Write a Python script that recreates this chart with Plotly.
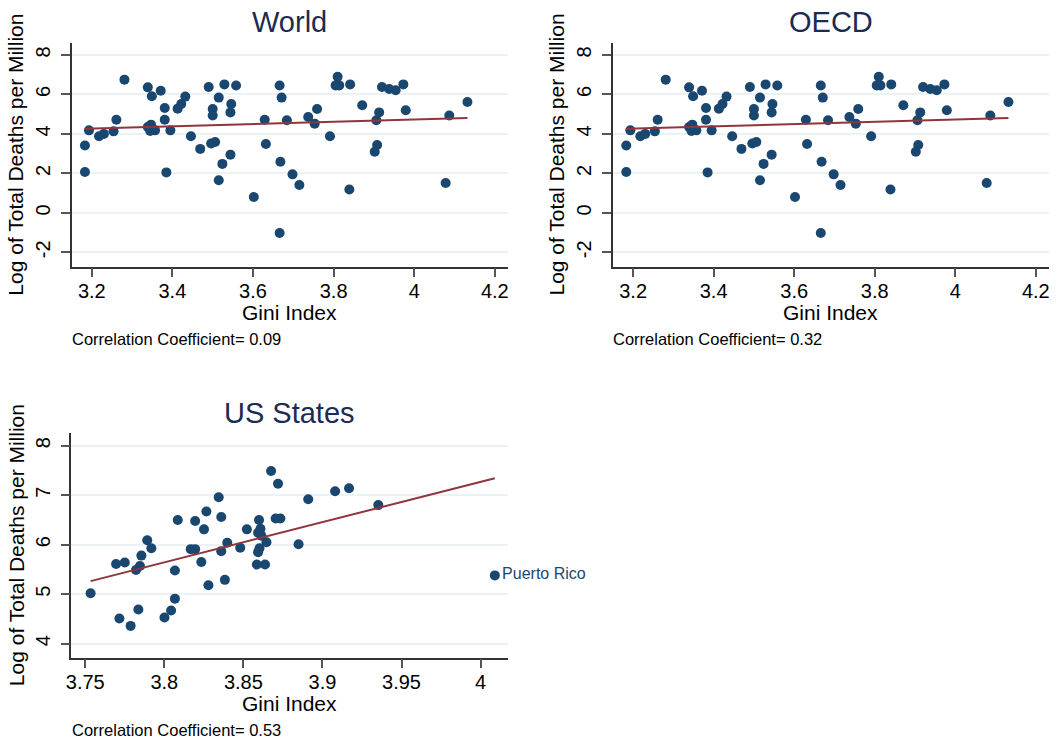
import numpy as np
import plotly.graph_objects as go

# ---------------- data ----------------
world_gini = [3.183, 3.183, 3.193, 3.218, 3.230, 3.254, 3.261, 3.281, 3.339, 3.349,
              3.371, 3.339, 3.347, 3.345, 3.357, 3.381, 3.381, 3.385, 3.395, 3.413,
              3.422, 3.432, 3.446, 3.469, 3.490, 3.500, 3.500, 3.496, 3.506, 3.515,
              3.529, 3.524, 3.515, 3.544, 3.546, 3.544, 3.558, 3.602, 3.629, 3.632,
              3.666, 3.671, 3.668, 3.666, 3.684, 3.698, 3.715, 3.737, 3.753, 3.759,
              3.791, 3.810, 3.805, 3.814, 3.841, 3.839, 3.871, 3.906, 3.913, 3.908,
              3.902, 3.920, 3.938, 3.954, 3.973, 3.979, 4.078, 4.087, 4.132]
world_deaths = [3.41, 2.07, 4.18, 3.88, 4.00, 4.13, 4.72, 6.75, 6.36, 5.91,
                6.19, 4.35, 4.47, 4.15, 4.18, 5.31, 4.72, 2.05, 4.18, 5.28,
                5.52, 5.89, 3.88, 3.24, 6.38, 5.26, 4.93, 3.51, 3.59, 5.84,
                6.51, 2.48, 1.65, 2.95, 5.52, 5.09, 6.45, 0.80, 4.72, 3.49,
                6.45, 5.84, 2.59, -1.02, 4.69, 1.95, 1.41, 4.86, 4.52, 5.26,
                3.88, 6.90, 6.46, 6.46, 6.51, 1.18, 5.45, 4.69, 5.09, 3.44,
                3.10, 6.38, 6.28, 6.21, 6.51, 5.20, 1.51, 4.93, 5.62]

# The OECD panel in the reference shows the same scatter as the World panel
oecd_gini = list(world_gini)
oecd_deaths = list(world_deaths)

us_gini = [3.7534, 3.7695, 3.7750, 3.7716, 3.7787, 3.7836, 3.7821, 3.7846, 3.7855, 3.7892,
           3.7918, 3.8001, 3.8043, 3.8067, 3.8067, 3.8085, 3.8167, 3.8195, 3.8195, 3.8234,
           3.8251, 3.8266, 3.8279, 3.8344, 3.8360, 3.8360, 3.8383, 3.8398, 3.8480, 3.8522,
           3.8599, 3.8608, 3.8593, 3.8614, 3.8602, 3.8593, 3.8585, 3.8637, 3.8646, 3.8675,
           3.8719, 3.8704, 3.8734, 3.8849, 3.8910, 3.9080, 3.9168, 3.9353]
us_deaths = [5.02, 5.61, 5.64, 4.51, 4.36, 4.69, 5.49, 5.57, 5.78, 6.09,
             5.93, 4.53, 4.67, 4.91, 5.48, 6.50, 5.91, 5.91, 6.48, 5.65,
             6.31, 6.67, 5.18, 6.96, 6.56, 5.87, 5.29, 6.04, 5.94, 6.31,
             6.50, 6.32, 6.24, 6.18, 5.93, 5.85, 5.60, 5.60, 6.05, 7.49,
             7.23, 6.53, 6.53, 6.01, 6.92, 7.08, 7.14, 6.80]
pr_label = "Puerto Rico"
pr_gini = [4.009]
pr_deaths = [5.38]

corr_text = ["Correlation Coefficient= 0.09",
             "Correlation Coefficient= 0.32",
             "Correlation Coefficient= 0.53"]
panel_titles = ["World", "OECD", "US States"]
world_ticks = [3.2, 3.4, 3.6, 3.8, 4.0, 4.2]
world_ticklabels = ["3.2", "3.4", "3.6", "3.8", "4", "4.2"]
us_ticks = [3.75, 3.8, 3.85, 3.9, 3.95, 4.0]
us_ticklabels = ["3.75", "3.8", "3.85", "3.9", "3.95", "4"]

# ---------------- styling ----------------
W, H = 1057, 744
FONT = "Liberation Sans, Arial, sans-serif"
MARK = "#1a476f"
LINE = "#90353b"
GRID = "#eaf2f3"
TITLE_COL = "#1c2b50"


def px_x(v):
    return v / W


def px_y(v):
    return 1 - v / H


def fit_line(x, y):
    x = np.asarray(x, float)
    y = np.asarray(y, float)
    b, a = np.polyfit(x, y, 1)
    xs = np.array([x.min(), x.max()])
    return xs, a + b * xs


fig = go.Figure()

panels = [
    ("x", "y", world_gini, world_deaths),
    ("x2", "y2", oecd_gini, oecd_deaths),
]
for xa, ya, gx, gy in panels:
    fig.add_trace(go.Scatter(x=gx, y=gy, mode="markers", xaxis=xa, yaxis=ya,
                             marker=dict(color=MARK, size=10, line=dict(width=0)),
                             showlegend=False, hoverinfo="skip"))
    fx, fy = fit_line(gx, gy)
    fig.add_trace(go.Scatter(x=fx, y=fy, mode="lines", xaxis=xa, yaxis=ya,
                             line=dict(color=LINE, width=2), showlegend=False, hoverinfo="skip"))

# US states
fig.add_trace(go.Scatter(x=us_gini, y=us_deaths, mode="markers", xaxis="x3", yaxis="y3",
                         marker=dict(color=MARK, size=10, line=dict(width=0)),
                         showlegend=False, hoverinfo="skip"))
fig.add_trace(go.Scatter(x=pr_gini, y=pr_deaths, mode="markers+text", xaxis="x3", yaxis="y3",
                         text=[pr_label], textposition="middle right",
                         textfont=dict(color=MARK, size=16, family=FONT),
                         marker=dict(color=MARK, size=10, line=dict(width=0)),
                         showlegend=False, hoverinfo="skip", cliponaxis=False))
fx, fy = fit_line(us_gini + pr_gini, us_deaths + pr_deaths)
fig.add_trace(go.Scatter(x=fx, y=fy, mode="lines", xaxis="x3", yaxis="y3",
                         line=dict(color=LINE, width=2), showlegend=False, hoverinfo="skip"))

xcommon = dict(showline=True, linecolor="#333333", linewidth=1.5, ticks="outside",
               ticklen=9, tickwidth=1.5, tickcolor="#555555", showgrid=False, zeroline=False,
               tickfont=dict(size=20, color="#000000", family=FONT), ticklabelstandoff=-3)
ycommon = dict(showline=True, linecolor="#333333", linewidth=1.5, ticks="outside",
               ticklen=9, tickwidth=1.5, tickcolor="#555555", showgrid=True, gridcolor=GRID,
               gridwidth=2, zeroline=False, tickangle=-90,
               tickfont=dict(size=20, color="#000000", family=FONT), ticklabelstandoff=3)

fig.update_layout(
    width=W, height=H, autosize=False,
    margin=dict(l=0, r=0, t=0, b=0),
    paper_bgcolor="white", plot_bgcolor="white",
    font=dict(family=FONT, color="#000000"),
    xaxis=dict(domain=[px_x(67.3), px_x(506)], range=[3.1507, 4.233], anchor="y",
               tickvals=world_ticks, ticktext=world_ticklabels, **xcommon),
    yaxis=dict(domain=[px_y(266.7), px_y(42.7)], range=[-2.73, 8.623], anchor="x",
               tickvals=[-2, 0, 2, 4, 6, 8], ticktext=["-2", "0", "2", "4", "6", "8"], **ycommon),
    xaxis2=dict(domain=[px_x(611), px_x(1050)], range=[3.1489, 4.2328], anchor="y2",
                tickvals=world_ticks, ticktext=world_ticklabels, **xcommon),
    yaxis2=dict(domain=[px_y(266.7), px_y(42.7)], range=[-2.73, 8.623], anchor="x2",
                tickvals=[-2, 0, 2, 4, 6, 8], ticktext=["-2", "0", "2", "4", "6", "8"], **ycommon),
    xaxis3=dict(domain=[px_x(66.7), px_x(506)], range=[3.7412, 4.0174], anchor="y3",
                tickvals=us_ticks, ticktext=us_ticklabels, **xcommon),
    yaxis3=dict(domain=[px_y(657.7), px_y(432.7)], range=[3.717, 8.263], anchor="x3",
                tickvals=[4, 5, 6, 7, 8], ticktext=["4", "5", "6", "7", "8"], **ycommon),
)

ann = []
# panel titles
for t, (cx, cy) in zip(panel_titles, [(286.6, 21.5), (830.5, 21.5), (286.3, 412.5)]):
    ann.append(dict(text=t, x=px_x(cx), y=px_y(cy), xref="paper", yref="paper",
                    xanchor="center", yanchor="middle", showarrow=False,
                    font=dict(size=29, color=TITLE_COL, family=FONT)))
# x axis titles
for cx, cy in [(286.6, 313), (830.5, 313), (286.3, 703)]:
    ann.append(dict(text="Gini Index", x=px_x(cx), y=px_y(cy), xref="paper", yref="paper",
                    xanchor="center", yanchor="middle", showarrow=False,
                    font=dict(size=21, color="#000000", family=FONT)))
# y axis titles
for cx, cy in [(11, 154.7), (555, 154.7), (11, 545.2)]:
    ann.append(dict(text="Log of Total Deaths per Million", x=px_x(cx), y=px_y(cy),
                    xref="paper", yref="paper", xanchor="center", yanchor="middle",
                    textangle=-90, showarrow=False,
                    font=dict(size=21, color="#000000", family=FONT)))
# correlation notes
for t, (lx, cy) in zip(corr_text, [(65, 339), (609, 339), (65, 730)]):
    ann.append(dict(text=t, x=px_x(lx), y=px_y(cy), xref="paper", yref="paper",
                    xanchor="left", yanchor="middle", showarrow=False,
                    font=dict(size=16.5, color="#000000", family=FONT)))
fig.update_layout(annotations=ann)

fig.write_html("out.html")
